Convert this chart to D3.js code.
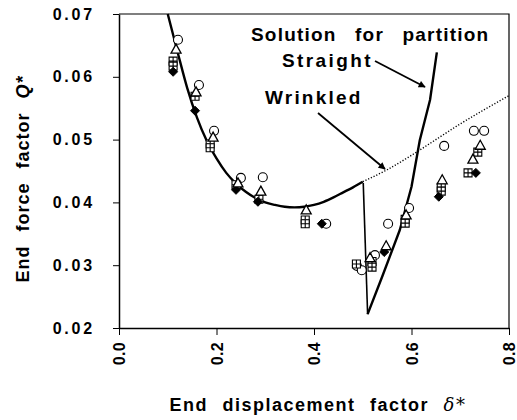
<!DOCTYPE html>
<html>
<head>
<meta charset="utf-8">
<script src="https://cdn.jsdelivr.net/npm/d3@7"></script>
<style>
  body { margin: 0; background: #fff; }
  svg text { font-family: "Liberation Sans", Arial, sans-serif; font-weight: bold; fill: #000; }
</style>
</head>
<body>
<svg id="chart" width="517" height="420"></svg>
<script>
// tick labels
var xTicks = [0.0, 0.2, 0.4, 0.6, 0.8];
var yTicks = [0.02, 0.03, 0.04, 0.05, 0.06, 0.07];

// experiment markers
var circleX = [0.121, 0.164, 0.195, 0.250, 0.295, 0.425, 0.488, 0.498, 0.525, 0.552, 0.595, 0.667, 0.728, 0.749];
var circleY = [0.0659, 0.0587, 0.0514, 0.0439, 0.0440, 0.0366, 0.0299, 0.0292, 0.0316, 0.0366, 0.0391, 0.0490, 0.0514, 0.0514];

var triX = [0.117, 0.158, 0.193, 0.244, 0.291, 0.384, 0.515, 0.548, 0.589, 0.663, 0.726, 0.741];
var triY = [0.0644, 0.0576, 0.0504, 0.0431, 0.0418, 0.0388, 0.0312, 0.0331, 0.0380, 0.0436, 0.0469, 0.0491];

var sqX = [0.111, 0.111, 0.156, 0.187, 0.187, 0.240, 0.287, 0.382, 0.382, 0.487, 0.519, 0.519, 0.587, 0.587, 0.661, 0.661, 0.716, 0.736];
var sqY = [0.0625, 0.0617, 0.0569, 0.0493, 0.0487, 0.0428, 0.0405, 0.0372, 0.0366, 0.0302, 0.0306, 0.0297, 0.0373, 0.0367, 0.0424, 0.0418, 0.0447, 0.0480];

var diaX = [0.111, 0.156, 0.240, 0.285, 0.416, 0.544, 0.656, 0.732];
var diaY = [0.0608, 0.0546, 0.0420, 0.0401, 0.0366, 0.0321, 0.0409, 0.0447];

// wrinkled solution (solid up to 0.5, dotted after)
var wrinkX = [0.100, 0.120, 0.140, 0.160, 0.180, 0.200, 0.220, 0.240, 0.260, 0.280, 0.300, 0.320, 0.340, 0.360, 0.380, 0.400, 0.420, 0.440, 0.460, 0.480, 0.500];
var wrinkY = [0.0700, 0.0640, 0.0582, 0.0535, 0.0498, 0.0470, 0.0447, 0.0430, 0.0417, 0.0407, 0.0400, 0.0396, 0.0393, 0.0392, 0.0393, 0.0396, 0.0401, 0.0408, 0.0416, 0.0424, 0.0433];
var dotX = [0.500, 0.550, 0.600, 0.650, 0.700, 0.750, 0.800];
var dotY = [0.0433, 0.0452, 0.0475, 0.0500, 0.0525, 0.0548, 0.0570];

// straight solution (drop, then rise)
var dropX = [0.501, 0.510];
var dropY = [0.0431, 0.0222];
var straightX = [0.510, 0.540, 0.576, 0.600, 0.617, 0.638, 0.652];
var straightY = [0.0222, 0.0282, 0.0356, 0.0425, 0.0499, 0.0563, 0.0639];

var svg = d3.select("#chart");
var x = d3.scaleLinear().domain([0, 0.8]).range([119, 509]);
var y = d3.scaleLinear().domain([0.02, 0.07]).range([328, 14]);

var pts = function(xs, ys) { return xs.map(function(v, i) { return [v, ys[i]]; }); };
var line = d3.line().x(function(d) { return x(d[0]); }).y(function(d) { return y(d[1]); });
var curve = d3.line().curve(d3.curveMonotoneX).x(function(d) { return x(d[0]); }).y(function(d) { return y(d[1]); });

// frame top / right
svg.append("path")
  .attr("d", "M" + x(0) + "," + y(0.07) + "H" + x(0.8) + "V" + y(0.02))
  .attr("fill", "none").attr("stroke", "#000").attr("stroke-width", 1.2);

// axes
var ya = svg.append("g").attr("transform", "translate(" + x(0) + ",0)")
  .call(d3.axisLeft(y).tickValues(yTicks).tickFormat(d3.format(".2f")).tickSize(6).tickSizeOuter(0));
ya.select(".domain").attr("stroke-width", 1.5);
ya.selectAll("text").attr("x", -24).style("font-size", "16px").style("letter-spacing", "2.8px");

var xa = svg.append("g").attr("transform", "translate(0," + y(0.02) + ")")
  .call(d3.axisBottom(x).tickValues(xTicks).tickFormat(d3.format(".1f")).tickSize(7).tickSizeOuter(0));
xa.select(".domain").attr("stroke-width", 1.5);
xa.selectAll("text")
  .attr("transform", "rotate(-90)")
  .attr("x", -14).attr("y", 0).attr("dy", "0.35em")
  .attr("text-anchor", "end")
  .style("font-size", "16px").style("letter-spacing", "0.3px");

// axis titles
var yt = svg.append("text")
  .attr("transform", "translate(29,179) rotate(-90)")
  .attr("text-anchor", "middle").style("font-size", "18px")
  .style("letter-spacing", "1px").style("word-spacing", "8px");
yt.append("tspan").text("End force factor ");
yt.append("tspan").style("font-style", "italic").text("Q*");

var xt = svg.append("text")
  .attr("x", 318).attr("y", 411)
  .attr("text-anchor", "middle").style("font-size", "18px")
  .style("word-spacing", "8px").style("letter-spacing", "1.5px");
xt.append("tspan").text("End displacement factor ");
xt.append("tspan").style("font-style", "italic").style("font-weight", "normal").style("font-family", "DejaVu Serif").text("δ*");

// solution curves
svg.append("path").datum(pts(wrinkX, wrinkY)).attr("d", curve)
  .attr("fill", "none").attr("stroke", "#000").attr("stroke-width", 2.4);
svg.append("path").datum(pts(dotX, dotY)).attr("d", curve)
  .attr("fill", "none").attr("stroke", "#000").attr("stroke-width", 1.4).attr("stroke-dasharray", "1.2,1.8");
svg.append("path").datum(pts(dropX, dropY)).attr("d", line)
  .attr("fill", "none").attr("stroke", "#000").attr("stroke-width", 1.6);
svg.append("path").datum(pts(straightX, straightY)).attr("d", line)
  .attr("fill", "none").attr("stroke", "#000").attr("stroke-width", 2.4).attr("stroke-linejoin", "round");

// markers
var g = svg.append("g");
g.selectAll("circle.c").data(pts(circleX, circleY)).enter().append("circle")
  .attr("cx", function(d) { return x(d[0]); }).attr("cy", function(d) { return y(d[1]); })
  .attr("r", 4.5).attr("fill", "#fff").attr("stroke", "#000").attr("stroke-width", 1.1);

var sqPath = function(d) {
  var cx = x(d[0]), cy = y(d[1]), s = 4;
  return "M" + (cx - s) + "," + (cy - s) + "h" + 2 * s + "v" + 2 * s + "h" + (-2 * s) + "Z" +
    "M" + cx + "," + (cy - s) + "v" + 2 * s + "M" + (cx - s) + "," + cy + "h" + 2 * s;
};
g.selectAll("path.s").data(pts(sqX, sqY)).enter().append("path")
  .attr("d", sqPath).attr("fill", "#fff").attr("stroke", "#000").attr("stroke-width", 1.1);

var diaPath = function(d) {
  var cx = x(d[0]), cy = y(d[1]), s = 4.5;
  return "M" + cx + "," + (cy - s) + "L" + (cx + s) + "," + cy + "L" + cx + "," + (cy + s) + "L" + (cx - s) + "," + cy + "Z";
};
g.selectAll("path.d").data(pts(diaX, diaY)).enter().append("path")
  .attr("d", diaPath).attr("fill", "#000").attr("stroke", "#000").attr("stroke-width", 1);

var triPath = function(d) {
  var cx = x(d[0]), cy = y(d[1]), s = 5;
  return "M" + cx + "," + (cy - s) + "L" + (cx + s) + "," + (cy + s * 0.8) + "L" + (cx - s) + "," + (cy + s * 0.8) + "Z";
};
g.selectAll("path.t").data(pts(triX, triY)).enter().append("path")
  .attr("d", triPath).attr("fill", "#fff").attr("stroke", "#000").attr("stroke-width", 1.3);

// annotations
svg.append("text").attr("x", 251).attr("y", 41).style("font-size", "19px")
  .style("letter-spacing", "1.2px").style("word-spacing", "12px").text("Solution for partition");
svg.append("text").attr("x", 282).attr("y", 67).style("font-size", "19px")
  .style("letter-spacing", "2.4px").text("Straight");
svg.append("text").attr("x", 265).attr("y", 104).style("font-size", "19px")
  .style("letter-spacing", "2.2px").text("Wrinkled");

var defs = svg.append("defs");
defs.append("marker").attr("id", "ah").attr("viewBox", "0 0 10 10").attr("refX", 9).attr("refY", 5)
  .attr("markerWidth", 9).attr("markerHeight", 7).attr("markerUnits", "userSpaceOnUse").attr("orient", "auto")
  .append("path").attr("d", "M0,0L10,5L0,10Z").attr("fill", "#000");

svg.append("line").attr("x1", 375).attr("y1", 61).attr("x2", 425).attr("y2", 87)
  .attr("stroke", "#000").attr("stroke-width", 1.8).attr("marker-end", "url(#ah)");
svg.append("line").attr("x1", 318).attr("y1", 113).attr("x2", 385).attr("y2", 169)
  .attr("stroke", "#000").attr("stroke-width", 1.8).attr("marker-end", "url(#ah)");
</script>
</body>
</html>
